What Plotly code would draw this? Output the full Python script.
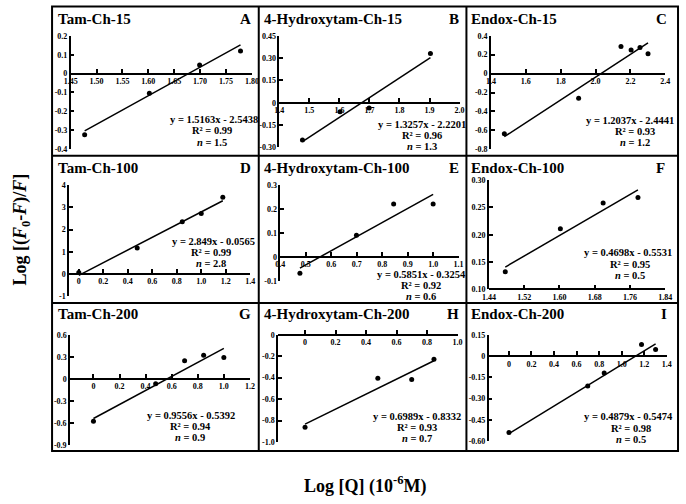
import plotly.graph_objects as go

W, H = 686, 504

titles = ["Tam-Ch-15", "4-Hydroxytam-Ch-15", "Endox-Ch-15",
          "Tam-Ch-100", "4-Hydroxytam-Ch-100", "Endox-Ch-100",
          "Tam-Ch-200", "4-Hydroxytam-Ch-200", "Endox-Ch-200"]
letters = ["A", "B", "C", "D", "E", "F", "G", "H", "I"]

# Log[Q] (x) and Log[(F0-F)/F] (y) values per panel
x_A = [1.477, 1.602, 1.699, 1.778]
y_A = [-0.325, -0.105, 0.045, 0.12]
x_B = [1.477, 1.602, 1.699, 1.903]
y_B = [-0.25, -0.06, -0.035, 0.33]
x_C = [1.477, 1.903, 2.146, 2.204, 2.255, 2.301]
y_C = [-0.635, -0.26, 0.285, 0.25, 0.275, 0.21]
x_D = [0.0, 0.477, 0.845, 1.0, 1.176]
y_D = [0.07, 1.17, 2.35, 2.72, 3.45]
x_E = [0.477, 0.699, 0.845, 1.0]
y_E = [-0.068, 0.09, 0.22, 0.22]
x_F = [1.477, 1.602, 1.699, 1.778]
y_F = [0.132, 0.211, 0.258, 0.268]
x_G = [0.0, 0.477, 0.699, 0.845, 1.0]
y_G = [-0.578, -0.066, 0.248, 0.323, 0.292]
x_H = [0.0, 0.477, 0.699, 0.845]
y_H = [-0.863, -0.405, -0.417, -0.229]
x_I = [0.0, 0.699, 0.845, 1.176, 1.301]
y_I = [-0.54, -0.211, -0.119, 0.083, 0.048]

slopes = [1.5163, 1.3257, 1.2037, 2.849, 0.5851, 0.4698, 0.9556, 0.6989, 0.4879]
intercepts = [-2.5438, -2.2201, -2.4441, -0.0565, -0.3254, -0.5531, -0.5392, -0.8332, -0.5474]
r2_vals = ["0.99", "0.96", "0.93", "0.99", "0.92", "0.95", "0.94", "0.93", "0.98"]
n_vals = ["1.5", "1.3", "1.2", "2.8", "0.6", "0.5", "0.9", "0.7", "0.5"]

# tick values / labels
xt_A = [1.45, 1.50, 1.55, 1.60, 1.65, 1.70, 1.75, 1.80]
xl_A = ["1.45", "1.50", "1.55", "1.60", "1.65", "1.70", "1.75", "1.80"]
yt_A = [0.2, 0.1, 0, -0.1, -0.2, -0.3, -0.4]
yl_A = ["0.2", "0.1", "0", "-0.1", "-0.2", "-0.3", "-0.4"]
xt_B = [1.4, 1.5, 1.6, 1.7, 1.8, 1.9, 2.0]
xl_B = ["1.4", "1.5", "1.6", "1.7", "1.8", "1.9", "2.0"]
yt_B = [0.45, 0.30, 0.15, 0, -0.15, -0.30]
yl_B = ["0.45", "0.30", "0.15", "0", "-0.15", "-0.30"]
xt_C = [1.4, 1.6, 1.8, 2.0, 2.2, 2.4]
xl_C = ["1.4", "1.6", "1.8", "2.0", "2.2", "2.4"]
yt_C = [0.4, 0.2, 0, -0.2, -0.4, -0.6, -0.8]
yl_C = ["0.4", "0.2", "0", "-0.2", "-0.4", "-0.6", "-0.8"]
xt_D = [0, 0.2, 0.4, 0.6, 0.8, 1.0, 1.2, 1.4]
xl_D = ["0", "0.2", "0.4", "0.6", "0.8", "1.0", "1.2", "1.4"]
yt_D = [4, 3, 2, 1, 0, -1]
yl_D = ["4", "3", "2", "1", "0", "-1"]
xt_E = [0.4, 0.5, 0.6, 0.7, 0.8, 0.9, 1.0, 1.1]
xl_E = ["0.4", "0.5", "0.6", "0.7", "0.8", "0.9", "1.0", "1.1"]
yt_E = [0.3, 0.2, 0.1, 0, -0.1]
yl_E = ["0.3", "0.2", "0.1", "0", "-0.1"]
xt_F = [1.44, 1.52, 1.60, 1.68, 1.76, 1.84]
xl_F = ["1.44", "1.52", "1.60", "1.68", "1.76", "1.84"]
yt_F = [0.30, 0.25, 0.20, 0.15, 0.10]
yl_F = ["0.30", "0.25", "0.20", "0.15", "0.10"]
xt_G = [0, 0.2, 0.4, 0.6, 0.8, 1.0, 1.2]
xl_G = ["0", "0.2", "0.4", "0.6", "0.8", "1.0", "1.2"]
yt_G = [0.6, 0.3, 0, -0.3, -0.6, -0.9]
yl_G = ["0.6", "0.3", "0", "-0.3", "-0.6", "-0.9"]
xt_H = [0, 0.2, 0.4, 0.6, 0.8, 1.0]
xl_H = ["0", "0.2", "0.4", "0.6", "0.8", "1.0"]
yt_H = [0, -0.2, -0.4, -0.6, -0.8, -1.0]
yl_H = ["0", "-0.2", "-0.4", "-0.6", "-0.8", "-1.0"]
xt_I = [0, 0.2, 0.4, 0.6, 0.8, 1.0, 1.2, 1.4]
xl_I = ["0", "0.2", "0.4", "0.6", "0.8", "1.0", "1.2", "1.4"]
yt_I = [0.15, 0, -0.15, -0.30, -0.45, -0.60]
yl_I = ["0.15", "0", "-0.15", "-0.30", "-0.45", "-0.60"]

data = [
    (x_A, y_A, xt_A, xl_A, yt_A, yl_A),
    (x_B, y_B, xt_B, xl_B, yt_B, yl_B),
    (x_C, y_C, xt_C, xl_C, yt_C, yl_C),
    (x_D, y_D, xt_D, xl_D, yt_D, yl_D),
    (x_E, y_E, xt_E, xl_E, yt_E, yl_E),
    (x_F, y_F, xt_F, xl_F, yt_F, yl_F),
    (x_G, y_G, xt_G, xl_G, yt_G, yl_G),
    (x_H, y_H, xt_H, xl_H, yt_H, yl_H),
    (x_I, y_I, xt_I, xl_I, yt_I, yl_I),
]

# layout geometry: pixel box (left, right, top, bottom), x range, y range
geom = [
    ((65, 250, 32.5, 147.5), (1.45, 1.80), (-0.4, 0.2)),
    ((278, 462, 32.3, 146), (1.4, 2.0), (-0.30, 0.45)),
    ((494, 672, 32.3, 148), (1.4, 2.4), (-0.8, 0.4)),
    ((63.3, 248.3, 184.3, 297.7), (-0.08, 1.4), (-1, 4)),
    ((279, 461, 184, 282), (0.4, 1.1), (-0.1, 0.3)),
    ((492, 672, 179.3, 290.5), (1.44, 1.84), (0.10, 0.30)),
    ((64.3, 248, 337, 449), (-0.18, 1.2), (-0.9, 0.6)),
    ((276.7, 460, 336.7, 446), (-0.177, 1.0), (-1.0, 0)),
    ((491.7, 673.5, 337, 445), (-0.18, 1.4), (-0.60, 0.15)),
]
# title row centers, title lefts, letter rights
title_y = [15, 15, 15, 166.5, 166.5, 166.5, 315.5, 315.5, 315.5]
title_x = [50, 260, 472, 50, 260, 472, 50, 260, 472]
letter_x = [251, 463, 676, 251, 463, 674, 251, 463, 676]
# equation block: center of equation line, center of R2/n lines, first line y
eq_cx = [211, 424, 636, 211, 423, 634, 188, 419, 634]
rn_cx = [209, 424, 641, 208, 423, 636, 187, 419, 637]
eq_y = [118, 122.5, 118.5, 241.5, 275.5, 253.5, 418.5, 420, 420.5]

SERIF = "Liberation Serif"


def fx(p):
    return p / W


def fy(p):
    return 1 - p / H


fig = go.Figure()
layout = dict(width=W, height=H, margin=dict(l=0, r=0, t=0, b=0),
              paper_bgcolor="white", plot_bgcolor="white", showlegend=False)
annotations = []
shapes = []

for i in range(9):
    k = i + 1
    xs, ys, xt, xl, yt, yl = data[i]
    (l, r, t, b), (x0, x1), (y0, y1) = geom[i]
    xname = "x" if k == 1 else f"x{k}"
    yname = "y" if k == 1 else f"y{k}"
    xdom = [fx(l), fx(r)]
    ydom = [fy(b), fy(t)]
    base = 0 if (y0 < 0 <= y1) else y0
    pos = ydom[0] + (base - y0) / (y1 - y0) * (ydom[1] - ydom[0])
    epsx = (x1 - x0) * 1e-6
    epsy = (y1 - y0) * 1e-6
    tickfont = dict(family=SERIF, size=8, color="black", weight="bold")
    layout["xaxis" if k == 1 else f"xaxis{k}"] = dict(
        domain=xdom, range=[x0 - epsx, x1 + epsx], anchor="free", position=pos,
        tickmode="array", tickvals=xt, ticktext=xl, ticks="inside", ticklen=4,
        tickwidth=1.5, tickcolor="black", showline=True, linecolor="black",
        linewidth=1.5, showgrid=False, zeroline=False, tickfont=tickfont,
        ticklabelstandoff=0)
    layout["yaxis" if k == 1 else f"yaxis{k}"] = dict(
        domain=ydom, range=[y0 - epsy, y1 + epsy], anchor=xname,
        tickmode="array", tickvals=yt, ticktext=yl, ticks="inside", ticklen=4,
        tickwidth=1.5, tickcolor="black", showline=True, linecolor="black",
        linewidth=1.5, showgrid=False, zeroline=False, tickfont=tickfont)

    # data points
    fig.add_trace(go.Scatter(x=xs, y=ys, mode="markers", xaxis=xname, yaxis=yname,
                             marker=dict(color="black", size=5), cliponaxis=False))
    # linear fit line
    lx = [min(xs), max(xs)]
    ly = [slopes[i] * v + intercepts[i] for v in lx]
    fig.add_trace(go.Scatter(x=lx, y=ly, mode="lines", xaxis=xname, yaxis=yname,
                             line=dict(color="black", width=1.5), cliponaxis=False))

    # titles & letters
    annotations.append(dict(text=titles[i], x=fx(title_x[i]), y=fy(title_y[i]),
                            xref="paper", yref="paper", xanchor="left", yanchor="middle",
                            showarrow=False,
                            font=dict(family=SERIF, size=15, color="black", weight="bold")))
    annotations.append(dict(text=letters[i], x=fx(letter_x[i]), y=fy(title_y[i]),
                            xref="paper", yref="paper", xanchor="right", yanchor="middle",
                            showarrow=False,
                            font=dict(family=SERIF, size=15, color="black", weight="bold")))
    # equation block
    eq = f"y = {slopes[i]}x - {abs(intercepts[i])}"
    lines = [(eq, eq_cx[i]), (f"R\u00b2 = {r2_vals[i]}", rn_cx[i]),
             (f"<i>n</i> = {n_vals[i]}", rn_cx[i])]
    for j, (txt, cx) in enumerate(lines):
        annotations.append(dict(text=txt, x=fx(cx), y=fy(eq_y[i] + 11.3 * j),
                                xref="paper", yref="paper", xanchor="center",
                                yanchor="middle", showarrow=False,
                                font=dict(family=SERIF, size=10.5, color="black",
                                          weight="bold")))

# panel grid borders
border = dict(type="line", xref="paper", yref="paper", line=dict(color="black", width=2))
shapes.append(dict(type="rect", xref="paper", yref="paper", x0=fx(46), x1=fx(685),
                   y0=fy(455), y1=fy(2.5), line=dict(color="black", width=2)))
for xv in (257, 469):
    shapes.append(dict(border, x0=fx(xv), x1=fx(xv), y0=fy(455), y1=fy(2.5)))
for yv in (154.5, 304.5):
    shapes.append(dict(border, x0=fx(46), x1=fx(685), y0=fy(yv), y1=fy(yv)))

# global axis titles
annotations.append(dict(text="Log [(<i>F</i><sub>0</sub>-<i>F</i>)/<i>F</i>]",
                        x=fx(15), y=fy(230), xref="paper", yref="paper",
                        textangle=-90, showarrow=False, xanchor="center", yanchor="middle",
                        font=dict(family=SERIF, size=18, color="black", weight="bold")))
annotations.append(dict(text="Log [Q] (10<sup>-6</sup>M)",
                        x=fx(365), y=fy(490), xref="paper", yref="paper",
                        showarrow=False, xanchor="center", yanchor="middle",
                        font=dict(family=SERIF, size=18, color="black", weight="bold")))

layout["annotations"] = annotations
layout["shapes"] = shapes
fig.update_layout(**layout)
fig.write_html("out.html", config={"displayModeBar": False},
               post_script="document.body.style.margin='0';")
